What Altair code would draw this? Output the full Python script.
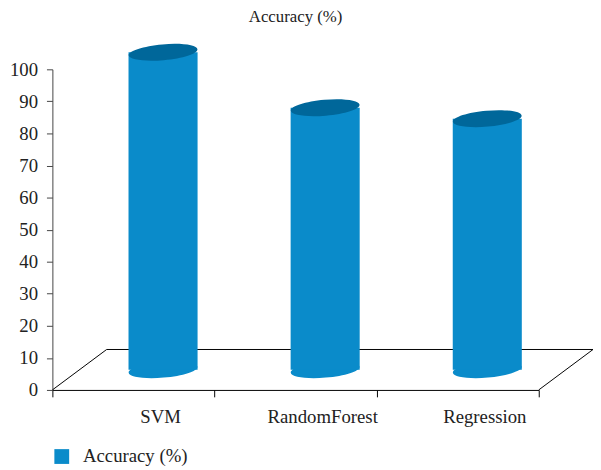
import altair as alt
import pandas as pd

# ---- data ----
models = ["SVM", "RandomForest", "Regression"]
accuracy = [99.0, 81.7, 78.3]
series_name = "Accuracy (%)"
chart_title = "Accuracy (%)"
y_ticks = list(range(0, 101, 10))

df = pd.DataFrame({
    "model": models,
    "acc": accuracy,
    "series": [series_name] * len(models),
    "zero": [0] * len(models),
})

# ---- styling / layout ----
W, H = 493, 325
DEPTH_X, DEPTH_Y = 55, 41          # 3D floor depth
CX, CY = 30, -20.5                 # cylinders sit at mid depth
CYL_W = 70
ELL = "M-1,0A1,0.23,0,1,0,1,0A1,0.23,0,1,0,-1,0Z"
BODY = "#0a8bca"
TOP = "#00679a"
FONT = "Liberation Serif"

x_enc = alt.X(
    "model:N", sort=models,
    scale=alt.Scale(paddingInner=0, paddingOuter=0),
    axis=alt.Axis(title=None, labelOffset=27, tickBand="extent", labelAngle=0,
                  labelFont=FONT, labelFontSize=19, labelColor="#222",
                  domainColor="#000", tickColor="#000", tickSize=7,
                  labelPadding=11),
)
y_scale = alt.Scale(domain=[0, 100], nice=False)
y_axis = alt.Axis(title=None, values=y_ticks, grid=False,
                  labelFont=FONT, labelFontSize=19, labelColor="#222",
                  domainColor="#444", tickColor="#444", tickSize=6,
                  labelPadding=9)

one = pd.DataFrame({"title": [chart_title]})
rule = dict(color="#000", strokeWidth=1)
floor_left = alt.Chart(one).mark_rule(**rule).encode(
    x=alt.value(0), y=alt.value(H), x2=alt.value(DEPTH_X), y2=alt.value(H - DEPTH_Y))
floor_back = alt.Chart(one).mark_rule(**rule).encode(
    x=alt.value(DEPTH_X), y=alt.value(H - DEPTH_Y), x2=alt.value(W + DEPTH_X), y2=alt.value(H - DEPTH_Y))
floor_right = alt.Chart(one).mark_rule(**rule).encode(
    x=alt.value(W), y=alt.value(H), x2=alt.value(W + DEPTH_X), y2=alt.value(H - DEPTH_Y))

title = alt.Chart(one).mark_text(font=FONT, fontSize=17, color="#222", align="center",
                                 baseline="alphabetic").encode(
    x=alt.value(W / 2), y=alt.value(-48), text="title:N")

base = alt.Chart(df)

bottom = base.mark_point(shape=ELL, filled=True, size=CYL_W ** 2, opacity=1,
                         color=BODY, strokeWidth=0, angle=355,
                         xOffset=CX, yOffset=CY).encode(
    x=x_enc, y=alt.Y("zero:Q", scale=y_scale, axis=y_axis))

body = base.mark_bar(size=CYL_W, xOffset=CX, x2Offset=CX, yOffset=CY, y2Offset=CY).encode(
    x=x_enc,
    y=alt.Y("acc:Q", scale=y_scale, axis=y_axis),
    y2="zero:Q",
    color=alt.Color("series:N", scale=alt.Scale(range=[BODY]),
                    legend=alt.Legend(title=None, orient="none", legendX=0, legendY=383,
                                      symbolType="square", symbolSize=225,
                                      symbolFillColor="#2b86c6", symbolStrokeWidth=0,
                                      labelFont=FONT, labelFontSize=19, labelColor="#222",
                                      labelOffset=12, padding=0)),
)

top = base.mark_point(shape=ELL, filled=True, size=CYL_W ** 2, opacity=1,
                      color=TOP, strokeWidth=0, angle=355,
                      xOffset=CX, yOffset=CY).encode(
    x=x_enc, y=alt.Y("acc:Q", scale=y_scale, axis=y_axis))

chart = alt.layer(floor_left, floor_back, floor_right, title, bottom, body, top).properties(
    width=W, height=H,
    autosize=alt.AutoSizeParams(type="none"),
    padding={"left": 45, "top": 59, "right": 55, "bottom": 78},
).configure_view(stroke=None)

chart.save("out.html", embed_options={"renderer": "svg", "actions": False})
